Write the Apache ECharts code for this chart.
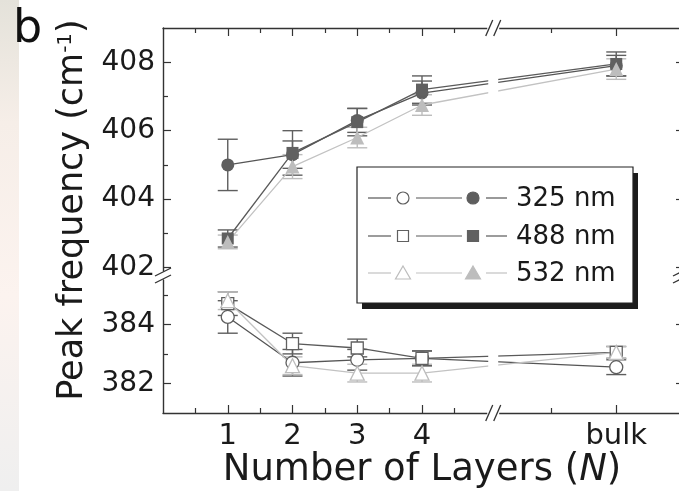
<!DOCTYPE html>
<html>
<head>
<meta charset="utf-8">
<script src="https://cdn.jsdelivr.net/npm/echarts@6/dist/echarts.min.js"></script>
<style>
html, body { margin: 0; padding: 0; background: #fff; }
#chart { width: 679px; height: 491px; }
</style>
</head>
<body>
<div id="chart"></div>
<script>
'use strict';

// x positions: 1..4 layers, bulk drawn at 7 after the axis break
const layers = [1, 2, 3, 4, 7];
const xTickValues = [1, 2, 3, 4, 7];
const xTickNames = ['1', '2', '3', '4', 'bulk'];
const xMinorTicks = [0.5, 1.5, 2.5, 3.5, 4.5, 6];
const wavelengths = ['325 nm', '488 nm', '532 nm'];

// upper branch, filled markers
const upper325 = [405.0, 405.3, 406.3, 407.1, 407.9];
const upper488 = [402.85, 405.35, 406.25, 407.2, 407.95];
const upper532 = [402.75, 404.95, 405.8, 406.75, 407.8];
const upperErr325 = [0.75, 0.4, 0.35, 0.35, 0.3];
const upperErr488 = [0.25, 0.65, 0.4, 0.4, 0.35];
const upperErr532 = [0.2, 0.35, 0.3, 0.3, 0.3];

// lower branch, open markers
const lower325 = [384.25, 382.7, 382.8, 382.85, 382.55];
const lower488 = [384.7, 383.35, 383.2, 382.85, 383.05];
const lower532 = [384.8, 382.6, 382.35, 382.35, 383.05];
const lowerErr325 = [0.55, 0.45, 0.35, 0.25, 0.25];
const lowerErr488 = [0.4, 0.35, 0.3, 0.25, 0.2];
const lowerErr532 = [0.3, 0.3, 0.3, 0.3, 0.2];

const upperTicks = [402, 404, 406, 408];
const upperMinor = [403, 405, 407];
const lowerTicks = [382, 384];
const lowerMinor = [383, 385];

const FONT = 'DejaVu Sans';
const axisColor = '#333';
const seriesColors = ['#5e5e5e', '#606060', '#bdbdbd'];
const lineColors = ['#555', '#5a5a5a', '#c2c2c2'];
const symbols = ['circle', 'rect', 'triangle'];
const symbolSizes = [13, 12, 14];

const gridLeft = 163;
const plotRight = 681;
const xMax = 8;
const breakAt = 5.1;
const breakX = gridLeft + breakAt * (plotRight - gridLeft) / xMax;

const chart = echarts.init(document.getElementById('chart'));

const tickStyle = (values, len) => ({
    show: true, inside: true, length: len, customValues: values,
    lineStyle: { color: axisColor, width: 1.2 },
});

const xAxisFor = (gridIndex, position, major, withLabels) => ({
    type: 'value', gridIndex, position, min: 0, max: xMax,
    splitLine: { show: false },
    axisLine: { show: major, lineStyle: { color: axisColor, width: 1.4 } },
    axisTick: tickStyle(major ? xTickValues : xMinorTicks, major ? 8 : 5),
    axisLabel: withLabels ? {
        show: true, customValues: xTickValues, margin: 9,
        fontFamily: FONT, fontSize: 29, color: '#1a1a1a',
        formatter: (v) => xTickNames[xTickValues.indexOf(v)],
    } : { show: false },
});

const yAxisFor = (gridIndex, position, min, max, ticks, len, withLabels, showLine) => ({
    type: 'value', gridIndex, position, min, max,
    splitLine: { show: false },
    axisLine: { show: showLine, lineStyle: { color: axisColor, width: 1.4 } },
    axisTick: tickStyle(ticks, len),
    axisLabel: withLabels ? {
        show: true, customValues: ticks, margin: 8,
        fontFamily: FONT, fontSize: 28, color: '#1a1a1a',
    } : { show: false },
});

const xAxes = [
    xAxisFor(0, 'top', true, false),
    xAxisFor(0, 'top', false, false),
    xAxisFor(1, 'bottom', true, true),
    xAxisFor(1, 'bottom', false, false),
];
xAxes[2].name = '{a|Number of Layers (}{i|N}{a|)}';
xAxes[2].nameLocation = 'middle';
xAxes[2].nameGap = 31;
xAxes[2].nameTextStyle = {
    rich: {
        a: { fontFamily: FONT, fontSize: 37, color: '#1a1a1a' },
        i: { fontFamily: FONT, fontSize: 37, fontStyle: 'italic', color: '#1a1a1a' },
    },
};

const yAxes = [
    yAxisFor(0, 'left', 401.9, 409, upperTicks, 8, true, true),
    yAxisFor(0, 'left', 401.9, 409, upperMinor, 5, false, false),
    yAxisFor(0, 'right', 401.9, 409, upperTicks, 5, false, true),
    yAxisFor(1, 'left', 381, 385.5, lowerTicks, 8, true, true),
    yAxisFor(1, 'left', 381, 385.5, lowerMinor, 5, false, false),
    yAxisFor(1, 'right', 381, 385.5, lowerTicks, 5, false, true),
];

const errorBars = (values, errs, color, xi, yi) => ({
    type: 'custom', xAxisIndex: xi, yAxisIndex: yi, z: 2, silent: true,
    data: layers.map((x, i) => [x, values[i] - errs[i], values[i] + errs[i]]),
    renderItem: (params, api) => {
        const top = api.coord([api.value(0), api.value(2)]);
        const bot = api.coord([api.value(0), api.value(1)]);
        const hw = 10;
        const st = { stroke: color, lineWidth: 1.4 };
        return {
            type: 'group',
            children: [
                { type: 'line', shape: { x1: top[0], y1: top[1], x2: bot[0], y2: bot[1] }, style: st },
                { type: 'line', shape: { x1: top[0] - hw, y1: top[1], x2: top[0] + hw, y2: top[1] }, style: st },
                { type: 'line', shape: { x1: bot[0] - hw, y1: bot[1], x2: bot[0] + hw, y2: bot[1] }, style: st },
            ],
        };
    },
});

const lineSeries = (name, values, k, filled, xi, yi) => ({
    name, type: 'line', xAxisIndex: xi, yAxisIndex: yi, z: 3,
    data: layers.map((x, i) => [x, values[i]]),
    symbol: symbols[k], symbolSize: symbolSizes[k],
    lineStyle: { color: lineColors[k], width: 1.3 },
    itemStyle: filled
        ? { color: seriesColors[k], borderColor: seriesColors[k], borderWidth: 0 }
        : { color: '#fff', borderColor: seriesColors[k], borderWidth: 1.3 },
    emphasis: { disabled: true },
});

// white cut through the lines where the x axis is broken
const breakCut = (xi, yi) => ({
    type: 'custom', xAxisIndex: xi, yAxisIndex: yi, z: 4, silent: true,
    data: [[breakAt]],
    renderItem: (params, api) => {
        const c = api.coord([api.value(0), 0]);
        const cs = params.coordSys;
        return {
            type: 'rect',
            shape: { x: c[0] - 5, y: cs.y + 3, width: 10, height: cs.height - 6 },
            style: { fill: '#fff' },
        };
    },
});

const upperSets = [[upper325, upperErr325], [upper488, upperErr488], [upper532, upperErr532]];
const lowerSets = [[lower325, lowerErr325], [lower488, lowerErr488], [lower532, lowerErr532]];

const series = [];
upperSets.forEach(([v, e], k) => {
    series.push(errorBars(v, e, seriesColors[k], 0, 0));
    series.push(lineSeries(wavelengths[k], v, k, true, 0, 0));
});
lowerSets.forEach(([v, e], k) => {
    series.push(errorBars(v, e, seriesColors[k], 2, 3));
    series.push(lineSeries(wavelengths[k], v, k, false, 2, 3));
});
series.push(breakCut(0, 0));
series.push(breakCut(2, 3));

// legend drawn by hand: open marker, line, filled marker, label
const legendRows = [198, 236, 273];
const legendEls = [
    { type: 'rect', shape: { x: 362, y: 173, width: 276, height: 136 }, style: { fill: '#1c1c1c' }, z: 20 },
    { type: 'rect', shape: { x: 357, y: 167, width: 276, height: 136 }, style: { fill: '#fff', stroke: '#222', lineWidth: 1.2 }, z: 21 },
];
const markerEl = (k, cx, cy, filled) => {
    const fill = filled ? seriesColors[k] : '#fff';
    const st = { fill, stroke: seriesColors[k], lineWidth: 1.2 };
    if (k === 0) return { type: 'circle', shape: { cx, cy, r: 6 }, style: st, z: 22 };
    if (k === 1) return { type: 'rect', shape: { x: cx - 5.5, y: cy - 5.5, width: 11, height: 11 }, style: st, z: 22 };
    return { type: 'polygon', shape: { points: [[cx, cy - 7], [cx + 7.5, cy + 6], [cx - 7.5, cy + 6]] }, style: st, z: 22 };
};
wavelengths.forEach((w, k) => {
    const y = legendRows[k];
    const ls = { stroke: lineColors[k], lineWidth: 1.2 };
    legendEls.push(
        { type: 'line', shape: { x1: 368, y1: y, x2: 391, y2: y }, style: ls, z: 22 },
        markerEl(k, 403, y, false),
        { type: 'line', shape: { x1: 416, y1: y, x2: 462, y2: y }, style: ls, z: 22 },
        markerEl(k, 473, y, true),
        { type: 'line', shape: { x1: 486, y1: y, x2: 507, y2: y }, style: ls, z: 22 },
        { type: 'text', x: 516, y: y + 1, z: 22,
          style: { text: w, fontFamily: FONT, fontSize: 26, fill: '#1a1a1a', align: 'left', verticalAlign: 'middle' } }
    );
});

// axis break marks
const slash = (x, y, dx, dy) => ({
    type: 'line', shape: { x1: x - dx, y1: y + dy, x2: x + dx, y2: y - dy },
    style: { stroke: axisColor, lineWidth: 1.3 }, z: 12,
});
const breakEls = [
    { type: 'rect', shape: { x: breakX - 6, y: 25, width: 12, height: 6 }, style: { fill: '#fff' }, z: 11 },
    { type: 'rect', shape: { x: breakX - 6, y: 410, width: 12, height: 6 }, style: { fill: '#fff' }, z: 11 },
    slash(breakX - 4, 28, 3.5, 8), slash(breakX + 4, 28, 3.5, 8),
    slash(breakX - 4, 413, 3.5, 8), slash(breakX + 4, 413, 3.5, 8),
    slash(163, 272, 8, 4), slash(163, 279, 8, 4),
    slash(681, 272, 8, 4), slash(681, 279, 8, 4),
];

chart.setOption({
    animation: false,
    backgroundColor: '#fff',
    grid: [
        { left: gridLeft, right: 679 - plotRight, top: 28, height: 243, outerBoundsMode: 'none' },
        { left: gridLeft, right: 679 - plotRight, top: 280, height: 133, outerBoundsMode: 'none' },
    ],
    xAxis: xAxes,
    yAxis: yAxes,
    series,
    graphic: [
        {
            type: 'rect', shape: { x: 0, y: 0, width: 19, height: 491 }, z: -1, silent: true,
            style: {
                fill: new echarts.graphic.LinearGradient(0, 0, 0, 1, [
                    { offset: 0, color: '#e4e2da' },
                    { offset: 0.25, color: '#f6eee8' },
                    { offset: 0.6, color: '#fcf3ef' },
                    { offset: 1, color: '#efefef' },
                ]),
            },
        },
        {
            type: 'text', x: 13, y: 7, z: 30,
            style: { text: 'b', fontFamily: FONT, fontSize: 46, fill: '#111', align: 'left', verticalAlign: 'top' },
        },
        {
            type: 'text', x: 73, y: 210, rotation: Math.PI / 2, z: 30,
            style: {
                text: '{a|Peak frequency (cm}{s|-1}{a|)}',
                align: 'center', verticalAlign: 'middle',
                rich: {
                    a: { fontFamily: FONT, fontSize: 35, fill: '#1a1a1a', color: '#1a1a1a' },
                    s: { fontFamily: FONT, fontSize: 20, fill: '#1a1a1a', color: '#1a1a1a', verticalAlign: 'top' },
                },
            },
        },
        ...breakEls,
        ...legendEls,
    ],
});
</script>
</body>
</html>
